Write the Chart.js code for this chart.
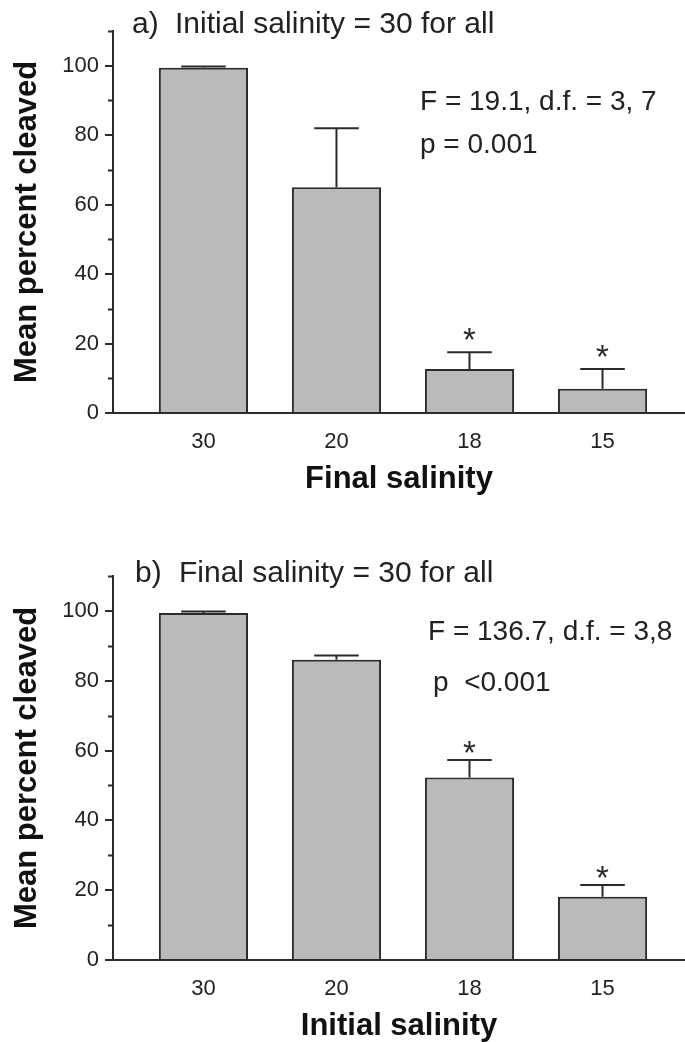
<!DOCTYPE html>
<html><head><meta charset="utf-8">
<script src="https://cdn.jsdelivr.net/npm/chart.js@4"></script>
<style>html,body{margin:0;padding:0;background:#fff;}canvas{display:block;}</style>
</head><body>
<canvas id="ca" width="685" height="520"></canvas>
<canvas id="cb" width="685" height="522"></canvas>
<script>
const categories = ['30', '20', '18', '15'];
const meansA = [99.4, 65.0, 12.7, 7.0];
const errA = [0.4, 17.0, 4.8, 5.7];
const sigA = [false, false, true, true];
const meansB = [99.4, 86.0, 52.3, 18.1];
const errB = [0.4, 1.2, 5.0, 3.4];
const sigB = [false, false, true, true];
const yMajorTicks = [0, 20, 40, 60, 80, 100];
const yMinorTicks = [10, 30, 50, 70, 90, 110];

const FAM = "'Liberation Sans', Arial, sans-serif";
const INK = '#2b2b2b';

const errorBarPlugin = {
  id: 'errorBars',
  afterDatasetsDraw(chart) {
    const ctx = chart.ctx, ys = chart.scales.y;
    const o = chart.options.plugins.errorBars;
    chart.data.datasets.forEach((ds, di) => {
      const meta = chart.getDatasetMeta(di);
      meta.data.forEach((bar, i) => {
        const top = ys.getPixelForValue(ds.data[i].y);
        const cap = ys.getPixelForValue(ds.data[i].y + ds.errors[i]);
        const half = bar.width * 0.25;
        ctx.save();
        ctx.strokeStyle = INK; ctx.lineWidth = 2;
        ctx.beginPath();
        ctx.moveTo(bar.x, top); ctx.lineTo(bar.x, cap);
        ctx.moveTo(bar.x - half, cap); ctx.lineTo(bar.x + half, cap);
        ctx.stroke();
        if (ds.sig[i]) {
          ctx.font = '33px ' + FAM;
          ctx.fillStyle = INK; ctx.textAlign = 'center'; ctx.textBaseline = 'alphabetic';
          const m = ctx.measureText('*');
          ctx.fillText('*', bar.x, cap - o.starGap - m.actualBoundingBoxDescent);
        }
        ctx.restore();
      });
    });
  }
};

const minorTickPlugin = {
  id: 'minorTicks',
  afterDraw(chart) {
    const ctx = chart.ctx, ys = chart.scales.y;
    ctx.save();
    ctx.strokeStyle = INK; ctx.lineWidth = 2;
    ctx.beginPath();
    yMinorTicks.forEach(v => {
      const py = Math.round(ys.getPixelForValue(v)) + 0.5;
      ctx.moveTo(ys.right - 5, py); ctx.lineTo(ys.right, py);
    });
    ctx.stroke();
    ctx.restore();
  }
};

const textPlugin = {
  id: 'panelText',
  afterDraw(chart) {
    const ctx = chart.ctx;
    ctx.save();
    ctx.fillStyle = '#222'; ctx.textAlign = 'left'; ctx.textBaseline = 'alphabetic';
    chart.options.plugins.panelText.items.forEach(it => {
      ctx.font = it.size + 'px ' + FAM;
      ctx.fillText(it.text, it.x, it.y);
    });
    ctx.restore();
  }
};

function makeChart(id, means, errs, sig, xTitle, opts) {
  return new Chart(document.getElementById(id), {
    type: 'bar',
    data: {
      datasets: [{
        data: categories.map((c, i) => ({ x: i, y: means[i] })),
        errors: errs,
        sig: sig,
        backgroundColor: '#bababa',
        borderColor: INK,
        borderWidth: 2,
        barPercentage: 0.67,
        categoryPercentage: 1
      }]
    },
    options: {
      responsive: false,
      animation: false,
      layout: { padding: { top: opts.top, right: 0, left: 0, bottom: 0 } },
      plugins: {
        legend: { display: false },
        tooltip: { enabled: false },
        errorBars: { starGap: opts.starGap },
        panelText: { items: opts.texts }
      },
      scales: {
        x: {
          type: 'linear', min: -0.68, max: 3.62, offset: false,
          afterBuildTicks(s) { s.ticks = categories.map((c, i) => ({ value: i })); },
          afterFit(s) { s.height = opts.xHeight; },
          ticks: { callback: (v) => categories[v], font: { family: FAM, size: 22 }, color: '#222', padding: 16, maxRotation: 0, autoSkip: false },
          grid: { display: true, drawOnChartArea: false, drawTicks: false },
          border: { display: true, color: INK, width: 2 },
          title: { display: true, text: xTitle, color: '#111', font: { family: FAM, size: 31, weight: 'bold', lineHeight: 1 }, padding: { top: 0, bottom: opts.xTitlePad } }
        },
        y: {
          type: 'linear', min: 0, max: 110,
          afterBuildTicks(s) { s.ticks = yMajorTicks.map(v => ({ value: v })); },
          afterFit(s) { s.width = 113; },
          ticks: { font: { family: FAM, size: 22 }, color: '#222', padding: 6 },
          grid: { drawOnChartArea: false, drawTicks: true, tickLength: 8, color: INK, lineWidth: 2 },
          border: { display: true, color: INK, width: 2 },
          title: { display: true, text: 'Mean percent cleaved', color: '#111', font: { family: FAM, size: 31, weight: 'bold', lineHeight: 1 }, padding: { top: 12, bottom: 0 } }
        }
      }
    },
    plugins: [errorBarPlugin, minorTickPlugin, textPlugin]
  });
}

makeChart('ca', meansA, errA, sigA, 'Final salinity', {
  top: 31, xHeight: 107, xTitlePad: 25, starGap: 12,
  texts: [
    { text: 'a)', x: 132, y: 33, size: 30 },
    { text: 'Initial salinity = 30 for all', x: 175, y: 33, size: 30 },
    { text: 'F = 19.1, d.f. = 3, 7', x: 420, y: 110, size: 28 },
    { text: 'p = 0.001', x: 420, y: 153, size: 28 }
  ]
});
makeChart('cb', meansB, errB, sigB, 'Initial salinity', {
  top: 56, xHeight: 82, xTitlePad: 0, starGap: 7,
  texts: [
    { text: 'b)', x: 135, y: 62, size: 30 },
    { text: 'Final salinity = 30 for all', x: 179, y: 62, size: 30 },
    { text: 'F = 136.7, d.f. = 3,8', x: 428, y: 120, size: 28 },
    { text: 'p  <0.001', x: 433, y: 171, size: 28 }
  ]
});
</script>
</body></html>
